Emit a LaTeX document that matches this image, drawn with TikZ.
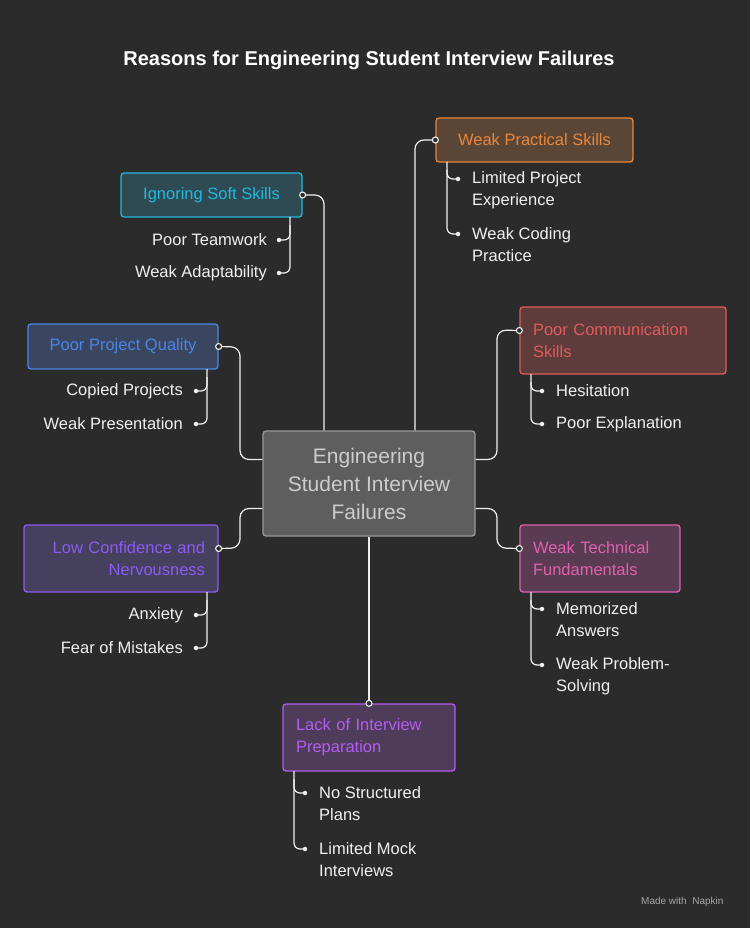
\documentclass[tikz,border=0pt]{standalone}
\usepackage{fontspec}
\setmainfont{Liberation Sans}
\usetikzlibrary{positioning}
\definecolor{bgc}{HTML}{2B2B2B}
\definecolor{txt}{HTML}{F0F0F0}
\definecolor{orangeB}{HTML}{E8873A}\definecolor{orangeF}{HTML}{5A4636}
\definecolor{cyanB}{HTML}{22B8E0}\definecolor{cyanF}{HTML}{2E4A52}
\definecolor{blueB}{HTML}{4A86E8}\definecolor{blueF}{HTML}{3A4560}
\definecolor{redB}{HTML}{E05A5A}\definecolor{redF}{HTML}{5E3C3C}
\definecolor{purpB}{HTML}{8A5CF0}\definecolor{purpF}{HTML}{45405E}
\definecolor{pinkB}{HTML}{E060B0}\definecolor{pinkF}{HTML}{5A3C52}
\definecolor{violB}{HTML}{B45CF0}\definecolor{violF}{HTML}{4E3C5A}
\tikzset{
  cat/.style={draw, line width=1.3pt, rounded corners=3pt, inner sep=0pt, font=\fontsize{16.5}{22}\selectfont},
  leaf/.style={text=txt, inner sep=0pt, font=\fontsize{16.5}{22}\selectfont},
  link/.style={draw=txt, line width=1.2pt, rounded corners=9pt},
  branch/.style={draw=txt, line width=1.2pt, rounded corners=6pt},
  pin/.style={circle, draw=txt, fill=bgc, line width=1.1pt, inner sep=0pt, minimum size=6pt},
  dot/.style={circle, fill=txt, inner sep=0pt, minimum size=4.5pt}
}
\begin{document}
\begin{tikzpicture}[x=1pt,y=1pt]
\fill[bgc] (0,0) rectangle (750,-928);
\useasboundingbox (0,0) rectangle (750,-928);

% title
\node[text=white, font=\fontsize{20}{24}\selectfont\bfseries] (title) at (369,-60) {Reasons for Engineering Student Interview Failures};

% centre
\node[cat, draw=gray!80, fill=gray!60!bgc, text=gray!40, minimum width=212pt, minimum height=105pt, align=center,
  font=\fontsize{21}{28}\selectfont] (core) at (369,-483.5) {Engineering\\Student Interview\\Failures};

% categories
\node[cat, draw=orangeB, fill=orangeF, text=orangeB, minimum width=197pt, minimum height=44pt] (wps) at (534.5,-140) {Weak Practical Skills};
\node[cat, draw=cyanB, fill=cyanF, text=cyanB, minimum width=181pt, minimum height=44pt] (iss) at (211.5,-195) {Ignoring Soft Skills};
\node[cat, draw=blueB, fill=blueF, text=blueB, minimum width=190pt, minimum height=45pt] (ppq) at (123,-346.5) {Poor Project Quality};
\node[cat, draw=redB, fill=redF, text=redB, minimum width=206pt, minimum height=67pt, align=left, text width=180pt] (pcs) at (623,-340.5) {Poor Communication\\Skills};
\node[cat, draw=purpB, fill=purpF, text=purpB, minimum width=194pt, minimum height=67pt, align=right, text width=168pt] (lcn) at (121,-558.5) {Low Confidence and\\Nervousness};
\node[cat, draw=pinkB, fill=pinkF, text=pinkB, minimum width=160pt, minimum height=67pt, align=left, text width=134pt] (wtf) at (600,-558.5) {Weak Technical\\Fundamentals};
\node[cat, draw=violB, fill=violF, text=violB, minimum width=172pt, minimum height=67pt, align=left, text width=146pt] (lip) at (369,-737.5) {Lack of Interview\\Preparation};

% links from centre
\draw[link] ([xshift=46pt]core.north) |- (wps.west);
\draw[link] ([xshift=-45pt]core.north) |- (iss.east);
\draw[link] ([yshift=24pt]core.west) -| (240,-347) -- (ppq.east);
\draw[link] ([yshift=24pt]core.east) -| (497,-330) -- ([yshift=10pt]pcs.west);
\draw[link] ([yshift=-25pt]core.west) -| (240,-548) -- ([yshift=10pt]lcn.east);
\draw[link] ([yshift=-25pt]core.east) -| (497,-548) -- ([yshift=10pt]wtf.west);
\draw[link] (core.south) -- (lip.north);
\node[pin] at (wps.west) {};
\node[pin] at (iss.east) {};
\node[pin] at (ppq.east) {};
\node[pin] at ([yshift=10pt]pcs.west) {};
\node[pin] at ([yshift=10pt]lcn.east) {};
\node[pin] at ([yshift=10pt]wtf.west) {};
\node[pin] at (lip.north) {};

% leaves
\node[leaf, anchor=west, align=left] (lpe) at (472,-190) {Limited Project\\Experience};
\node[leaf, anchor=west, align=left] (wcp) at (472,-245) {Weak Coding\\Practice};
\node[leaf, anchor=east] (ptw) at (267,-240) {Poor Teamwork};
\node[leaf, anchor=east] (wad) at (267,-273) {Weak Adaptability};
\node[leaf, anchor=east] (cpp) at (183,-391) {Copied Projects};
\node[leaf, anchor=east] (wpr) at (183,-424) {Weak Presentation};
\node[leaf, anchor=west] (hes) at (556,-391) {Hesitation};
\node[leaf, anchor=west] (pex) at (556,-424) {Poor Explanation};
\node[leaf, anchor=east] (anx) at (183,-615) {Anxiety};
\node[leaf, anchor=east] (fom) at (183,-648) {Fear of Mistakes};
\node[leaf, anchor=west, align=left] (mza) at (556,-620) {Memorized\\Answers};
\node[leaf, anchor=west, align=left] (wps2) at (556,-676) {Weak Problem-\\Solving};
\node[leaf, anchor=west, align=left] (nsp) at (319,-804) {No Structured\\Plans};
\node[leaf, anchor=west, align=left] (lmi) at (319,-860) {Limited Mock\\Interviews};

% leaf ticks
\coordinate (a1) at (458,-179); \coordinate (a2) at (458,-234);
\draw[branch] (447,-162) |- (a1); \draw[branch] (447,-170) |- (a2);
\coordinate (b1) at (279,-240); \coordinate (b2) at (279,-273);
\draw[branch] (290,-217) |- (b1); \draw[branch] (290,-225) |- (b2);
\coordinate (c1) at (196,-391); \coordinate (c2) at (196,-424);
\draw[branch] (207,-369) |- (c1); \draw[branch] (207,-377) |- (c2);
\coordinate (d1) at (542,-391); \coordinate (d2) at (542,-424);
\draw[branch] (531,-374) |- (d1); \draw[branch] (531,-382) |- (d2);
\coordinate (e1) at (196,-615); \coordinate (e2) at (196,-648);
\draw[branch] (207,-592) |- (e1); \draw[branch] (207,-600) |- (e2);
\coordinate (f1) at (542,-609); \coordinate (f2) at (542,-665);
\draw[branch] (531,-592) |- (f1); \draw[branch] (531,-600) |- (f2);
\coordinate (g1) at (305,-793); \coordinate (g2) at (305,-849);
\draw[branch] (294,-771) |- (g1); \draw[branch] (294,-779) |- (g2);
\foreach \p in {a1,a2,b1,b2,c1,c2,d1,d2,e1,e2,f1,f2,g1,g2} \node[dot] at (\p) {};

% footer
\node[text=gray!70, font=\fontsize{10}{12}\selectfont, anchor=east] (brand) at (727,-902) {Made with \ Napkin};
\end{tikzpicture}
\end{document}
